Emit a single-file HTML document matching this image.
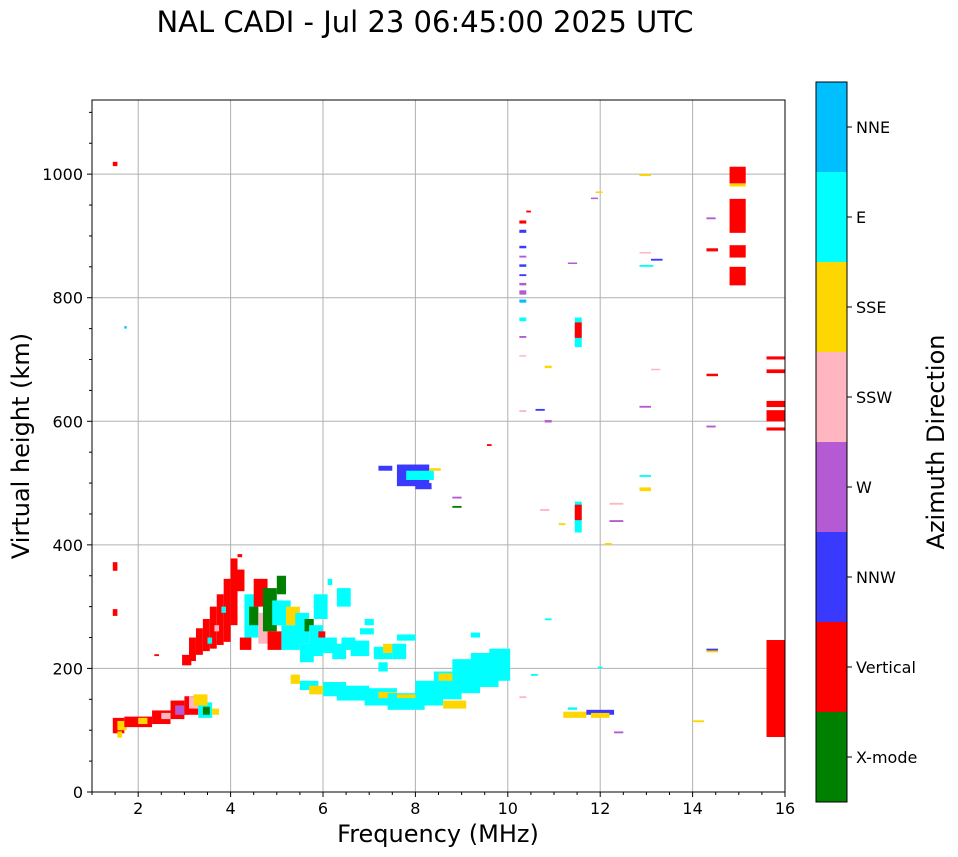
<!DOCTYPE html>
<html><head><meta charset="utf-8"><style>
body{margin:0;background:#fff;font-family:"DejaVu Sans","Liberation Sans",sans-serif}
svg{display:block}
</style></head><body>
<svg id="c" width="958" height="857" xmlns="http://www.w3.org/2000/svg" font-family="DejaVu Sans, Liberation Sans, sans-serif">
<text x="425" y="32" font-size="29" text-anchor="middle">NAL CADI - Jul 23 06:45:00 2025 UTC</text>
<g id="grid"></g><g id="marks"></g><g id="axes"></g><g id="cbar"></g>
<text x="438" y="842" font-size="24" text-anchor="middle">Frequency (MHz)</text>
<text transform="translate(29,446) rotate(-90)" font-size="24" text-anchor="middle">Virtual height (km)</text>
<text transform="translate(944,442) rotate(-90)" font-size="24" text-anchor="middle">Azimuth Direction</text>
</svg>
<script>
const xTicks=[2,4,6,8,10,12,14,16];
const yTicks=[0,200,400,600,800,1000];
const dirNames=["X-mode","Vertical","NNW","W","SSW","SSE","E","NNE"];
const dirColors=["#008000","#ff0000","#3a3aff","#b45ad2","#ffb6c1","#ffd700","#00ffff","#00bfff"];
// echoes: [freqStart, freqEnd, heightStart, heightEnd, directionIndex]
const echoes=[
[1.45,1.55,1013,1020,1],[1.45,1.55,358,372,1],[1.45,1.55,285,296,1],[1.7,1.75,750,754,7],[2.35,2.45,220,223,1],
[1.45,1.7,95,120,1],[1.55,1.75,100,115,5],[1.55,1.65,88,98,5],[1.7,2.3,105,122,1],[2.0,2.2,110,120,5],[2.3,2.7,110,132,1],[2.5,2.7,118,128,4],
[2.7,3.0,118,148,1],[2.8,3.1,125,140,3],[3.0,3.3,125,155,1],[3.1,3.4,135,155,4],[3.3,3.6,120,145,6],[3.4,3.55,125,138,0],[3.2,3.5,140,158,5],[3.6,3.75,125,135,5],
[2.95,3.15,205,222,1],[3.1,3.25,212,250,1],[3.25,3.4,222,265,1],[3.4,3.55,228,280,1],[3.55,3.7,232,300,1],[3.7,3.85,238,320,1],[3.85,4.0,243,345,1],[4.0,4.15,270,378,1],[4.1,4.3,325,360,1],[4.15,4.25,380,385,1],
[3.5,3.6,240,250,6],[3.65,3.75,260,270,4],[3.8,3.9,290,300,6],
[4.2,4.45,230,250,1],[4.3,4.6,250,320,6],[4.4,4.6,270,300,0],[4.5,4.8,300,345,1],[4.6,4.9,240,290,4],[4.7,5.0,260,330,0],[4.8,5.1,230,260,1],[4.9,5.3,270,310,6],
[5.0,5.2,320,350,0],[5.1,5.5,230,270,6],[5.2,5.5,270,300,5],[5.4,5.7,240,290,6],[5.5,5.8,210,240,6],[5.6,5.8,260,280,0],[5.7,6.0,220,270,6],[5.8,6.1,280,320,6],[5.9,6.05,250,260,1],
[6.0,6.3,225,250,6],[6.2,6.5,215,240,6],[6.3,6.6,300,330,6],[6.4,6.7,230,250,6],[6.6,7.0,220,245,6],[6.8,7.1,255,265,6],[7.1,7.5,215,235,6],[7.3,7.6,225,240,5],[7.5,7.8,215,240,6],[7.6,8.0,245,255,6],[7.2,7.4,195,210,6],[6.1,6.2,335,345,6],[6.9,7.1,270,280,6],
[5.3,5.5,175,190,5],[5.5,5.9,165,180,6],[5.7,6.3,158,172,5],[6.0,6.5,155,178,6],[6.3,7.0,148,172,6],[6.9,7.6,140,168,6],[7.2,7.6,152,162,5],[7.4,8.2,133,160,6],[7.6,8.0,152,158,5],
[8.0,8.6,140,180,6],[8.4,9.0,150,195,6],[8.5,9.0,180,192,5],[8.6,9.1,135,148,5],[8.8,9.4,160,215,6],[9.2,9.8,170,225,6],[9.6,10.05,180,232,6],[9.2,9.4,250,258,6],
[7.6,8.3,495,530,2],[7.8,8.4,505,520,6],[8.0,8.35,490,500,2],[7.2,7.5,520,528,2],[8.3,8.55,520,524,5],[8.8,9.0,475,478,3],[8.8,9.0,460,463,0],[9.55,9.65,560,563,1],
[10.25,10.4,920,925,1],[10.25,10.4,905,910,2],[10.25,10.4,880,884,2],[10.25,10.4,865,868,3],[10.25,10.4,850,854,2],[10.25,10.4,835,838,2],[10.25,10.4,820,824,3],[10.25,10.4,805,812,3],[10.25,10.4,792,797,7],[10.25,10.4,762,768,6],[10.25,10.4,735,738,3],[10.25,10.4,705,707,4],[10.25,10.4,615,618,4],[10.4,10.5,938,941,1],[10.25,10.4,152,155,4],
[11.45,11.6,720,768,6],[11.45,11.6,735,760,1],[11.45,11.6,420,470,6],[11.45,11.6,440,465,1],
[14.8,15.15,985,1012,1],[14.8,15.15,980,985,5],[14.8,15.15,905,960,1],[14.8,15.15,865,885,1],[14.8,15.15,820,850,1],
[15.6,16,700,705,1],[15.6,16,678,684,1],[15.6,16,623,633,1],[15.6,16,600,618,1],[15.6,16,585,590,1],[15.6,16,89,246,1],
[14.3,14.55,875,880,1],[14.3,14.5,927,930,3],[14.3,14.55,673,677,1],[14.3,14.5,590,593,3],[14.3,14.55,229,232,2],[14.3,14.55,226,229,5],[14.0,14.25,113,116,5],
[12.85,13.1,997,1000,5],[12.85,13.15,850,853,6],[13.1,13.35,860,863,2],[12.85,13.1,872,874,4],[13.1,13.3,683,685,4],[12.85,13.1,622,625,3],[12.85,13.1,487,493,5],[12.85,13.1,510,513,6],
[12.2,12.5,437,440,3],[12.2,12.5,465,468,4],[12.3,12.5,95,98,3],[11.9,12.05,970,972,5],[11.8,11.95,960,962,3],[11.3,11.5,855,857,3],
[10.8,10.95,686,690,5],[10.8,10.95,598,602,3],[10.7,10.9,455,458,4],[11.1,11.25,432,435,5],[10.8,10.95,278,281,6],[10.6,10.8,617,620,2],[12.1,12.25,400,403,5],
[11.2,11.7,120,130,5],[11.7,12.3,125,133,2],[11.8,12.2,120,128,5],[11.3,11.5,133,137,6],[11.95,12.05,200,203,6],[10.5,10.65,188,191,6]
];
const X0=92,X1=785,Y0=792,Y1=100,F0=1,F1=16,H0=0,H1=1120;
const xs=f=>X0+(f-F0)/(F1-F0)*(X1-X0);
const ys=h=>Y0-(h-H0)/(H1-H0)*(Y0-Y1);
const NS="http://www.w3.org/2000/svg";
function mk(tag,attrs,parent){const e=document.createElementNS(NS,tag);for(const k in attrs)e.setAttribute(k,attrs[k]);parent.appendChild(e);return e;}
const grid=document.getElementById('grid'),marks=document.getElementById('marks'),axes=document.getElementById('axes'),cb=document.getElementById('cbar');
xTicks.forEach(t=>{const l=mk('line',{x1:xs(t),x2:xs(t),y1:Y1,y2:Y0,stroke:'#b0b0b0','stroke-width':1},grid);

});
yTicks.forEach(t=>{const l=mk('line',{x1:X0,x2:X1,y1:ys(t),y2:ys(t),stroke:'#b0b0b0','stroke-width':1},grid);

});
echoes.forEach(d=>{const r=mk('rect',{x:xs(d[0]),y:ys(d[3]),width:Math.max(1,xs(d[1])-xs(d[0])),height:Math.max(1.5,ys(d[2])-ys(d[3])),fill:dirColors[d[4]]},marks);

});
const fr=mk('rect',{x:X0,y:Y1,width:X1-X0,height:Y0-Y1,fill:'none',stroke:'#000','stroke-width':1},axes);


for(let f=1;f<=16;f+=0.5){mk('line',{x1:xs(f),x2:xs(f),y1:Y0,y2:Y0+(f%2===0?5:3),stroke:'#000'},axes);}
for(let h=0;h<=1100;h+=50){mk('line',{x1:X0,x2:X0-(h%200===0?5:3),y1:ys(h),y2:ys(h),stroke:'#000'},axes);}
xTicks.forEach(t=>{const e=mk('text',{x:xs(t),y:Y0+22,'font-size':16,'text-anchor':'middle'},axes);e.textContent=t;

});
yTicks.forEach(t=>{const e=mk('text',{x:X0-9,y:ys(t)+6,'font-size':16,'text-anchor':'end'},axes);e.textContent=t;

});
const CT=82,CB=802,CX=816,CW=31,seg=(CB-CT)/dirNames.length;
dirNames.forEach((n,i)=>{const y=CB-(i+1)*seg;
const r=mk('rect',{x:CX,y:y,width:CW,height:seg,fill:dirColors[i]},cb);


mk('line',{x1:CX+CW,x2:CX+CW+5,y1:y+seg/2,y2:y+seg/2,stroke:'#000'},cb);
const t=mk('text',{x:CX+CW+9,y:y+seg/2+6,'font-size':16},cb);t.textContent=n;

});
const cbf=mk('rect',{x:CX,y:CT,width:CW,height:CB-CT,fill:'none',stroke:'#000'},cb);


</script>
</body></html>
